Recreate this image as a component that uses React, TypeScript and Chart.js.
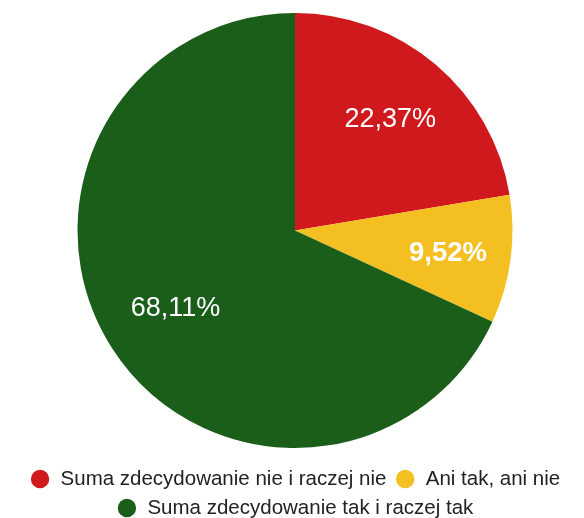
import React, { useEffect, useRef } from "react";
import { Chart, registerables } from "chart.js";

Chart.register(...registerables);

const categories = [
  "Suma zdecydowanie nie i raczej nie",
  "Ani tak, ani nie",
  "Suma zdecydowanie tak i raczej tak",
];
const values = [22.37, 9.52, 68.11];
const valueLabels = ["22,37%", "9,52%", "68,11%"];
const colors = ["#D0191D", "#F3BF21", "#1A5E1A"];
const labelBold = [false, true, false];
const labelRadius = [0.678, 0.71, 0.652];

const sliceLabels = {
  id: "sliceLabels",
  afterDatasetsDraw(chart: any) {
    const ctx = chart.ctx;
    const meta = chart.getDatasetMeta(0);
    meta.data.forEach((arc: any, i: number) => {
      const { x, y, startAngle, endAngle, outerRadius } = arc.getProps(
        ["x", "y", "startAngle", "endAngle", "outerRadius"],
        true
      );
      const mid = (startAngle + endAngle) / 2;
      const r = outerRadius * labelRadius[i];
      const px = x + Math.cos(mid) * r;
      const py = y + Math.sin(mid) * r + 2;
      ctx.save();
      ctx.fillStyle = "#ffffff";
      ctx.font = `${labelBold[i] ? "bold 27.5px" : "27px"} "Liberation Sans", Arial, sans-serif`;
      ctx.textAlign = "center";
      ctx.textBaseline = "middle";
      ctx.fillText(valueLabels[i], px, py);
      ctx.restore();
    });
  },
};

export default function App() {
  const ref = useRef<HTMLCanvasElement>(null);
  useEffect(() => {
    if (!ref.current) return;
    const chart = new Chart(ref.current, {
      type: "pie",
      data: {
        labels: categories,
        datasets: [
          {
            data: values,
            backgroundColor: colors,
            borderWidth: 0,
            hoverOffset: 0,
          },
        ],
      },
      options: {
        animation: false,
        responsive: false,
        layout: { padding: { top: 13, bottom: 0.75, left: 6, right: 0 } },
        plugins: {
          tooltip: { enabled: false },
          legend: {
            position: "bottom",
            title: {
              display: true,
              text: "",
              font: { size: 1, lineHeight: 1 },
              padding: { top: 11.25, bottom: 0 },
            },
            labels: {
              usePointStyle: true,
              pointStyle: "circle",
              boxHeight: 13,
              boxWidth: 20.5,
              padding: 8.5,
              color: "#222222",
              font: { size: 20.5, family: '"Liberation Sans", Arial, sans-serif', lineHeight: 1 },
            },
          },
        },
      },
      plugins: [sliceLabels],
    });
    return () => chart.destroy();
  }, []);
  return (
    <div
      style={{
        position: "fixed",
        left: 0,
        top: 0,
        width: 584,
        height: 518,
        overflow: "hidden",
        background: "#ffffff",
      }}
    >
      <canvas ref={ref} width={584} height={529} style={{ display: "block" }} />
    </div>
  );
}
